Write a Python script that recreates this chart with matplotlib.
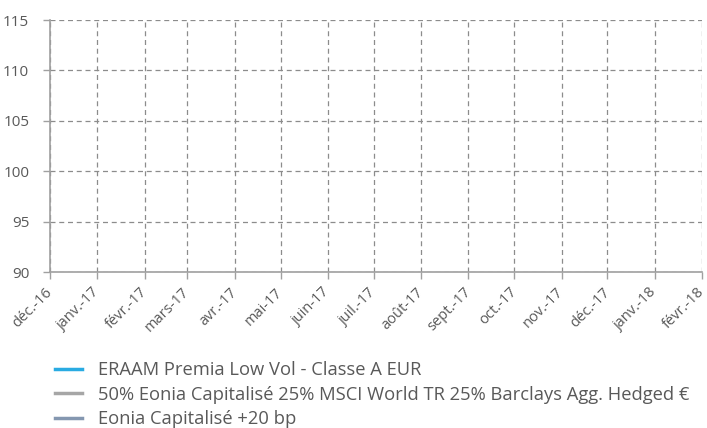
import matplotlib
matplotlib.use("Agg")
import matplotlib.pyplot as plt
import datetime as dt

# month ticks on the x axis
months = [dt.date(2016, 12, 1)] + [dt.date(2017, m, 1) for m in range(1, 13)] + \
         [dt.date(2018, 1, 1), dt.date(2018, 2, 1)]
month_labels = ["déc.-16", "janv.-17", "févr.-17", "mars-17", "avr.-17", "mai-17",
                "juin-17", "juil.-17", "août-17", "sept.-17", "oct.-17", "nov.-17",
                "déc.-17", "janv.-18", "févr.-18"]
y_ticks = [90, 95, 100, 105, 110, 115]

# series (no values shown in the chart)
series_names = ["ERAAM Premia Low Vol - Classe A EUR",
                "50% Eonia Capitalisé 25% MSCI World TR 25% Barclays Agg. Hedged €",
                "Eonia Capitalisé +20 bp"]
series_colors = ["#29abe2", "#a6a6a6", "#8497b0"]
series_dates = [[], [], []]
series_values = [[], [], []]

txt = "#595959"
axc = "#a0a0a0"
plt.rcParams["font.family"] = ["Open Sans", "DejaVu Sans"]

fig = plt.figure(figsize=(7.07, 4.28), dpi=100)
ax = fig.add_axes([50 / 707, 1 - 272 / 428, 652 / 707, 252 / 428])

lines = []
for d, v, c, n in zip(series_dates, series_values, series_colors, series_names):
    ln, = ax.plot(d, v, color=c, lw=2.5, label=n)
    lines.append(ln)

ax.set_xlim(months[0], months[-1])
ax.set_ylim(90, 115)
ax.set_xticks(months)
ax.set_xticklabels(month_labels, rotation=45, ha="right", va="center",
                   rotation_mode="anchor")
ax.set_yticks(y_ticks)

ax.grid(True, color="#8c8c8c", ls=(0, (4, 3)), lw=0.9)
for s in ["top", "right"]:
    ax.spines[s].set_visible(False)
for s in ["left", "bottom"]:
    ax.spines[s].set_color(axc)
    ax.spines[s].set_linewidth(1.2)
ax.tick_params(axis="both", colors=axc, labelcolor=txt, direction="out", length=5, width=1)
ax.tick_params(axis="y", labelsize=11, pad=10)
ax.tick_params(axis="x", labelsize=10.5, pad=8)

fig.legend(handles=lines, loc="upper left", bbox_to_anchor=(55 / 707, 1 - 361 / 428),
           frameon=False, fontsize=13.2, labelcolor=txt, handlelength=1.5,
           handletextpad=0.85, labelspacing=0.36, borderaxespad=0, borderpad=0)

fig.savefig("out.png", dpi=100)
